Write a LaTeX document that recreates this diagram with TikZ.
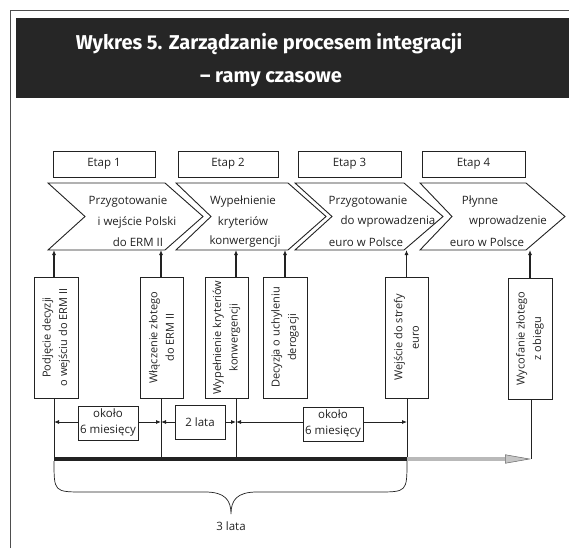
\documentclass[tikz,border=0pt]{standalone}
\usepackage{fontspec}
\setmainfont{Open Sans}
\newfontfamily\titlefont{Fira Sans}
\usetikzlibrary{arrows.meta,calc}
\definecolor{bar}{HTML}{262626}
\definecolor{ink}{HTML}{222222}
\begin{document}
\begin{tikzpicture}[x=1pt,y=-1pt,
  every node/.style={font=\fontsize{11.5}{14}\selectfont, text=ink},
  etapbox/.style={draw=ink, line width=0.8pt, minimum width=100, minimum height=26, inner sep=0pt},
  chev/.style={draw=ink, line width=0.9pt},
  cline/.style={inner sep=0pt, font=\fontsize{11.5}{14}\selectfont},
  vbox/.style={draw=ink, line width=0.8pt, rotate=90, minimum width=121, minimum height=44, inner sep=0pt, align=center, font=\fontsize{11}{16.5}\selectfont},
  uparr/.style={ink, line width=1.6pt, -{Latex[length=5pt,width=4pt]}},
  tick/.style={ink, line width=0.6pt},
  durarr/.style={ink, line width=0.8pt, {Latex[length=5pt,width=4pt]}-{Latex[length=5pt,width=4pt]}},
  durbox/.style={draw=ink, line width=0.8pt, fill=white, align=center, inner sep=1pt, font=\fontsize{11.5}{16}\selectfont},
]
\useasboundingbox (0,0) rectangle (569,548);
% frame
\draw[ink!80, line width=0.7pt] (10,548) -- (10,10) -- (569,10);
% title bar
\fill[bar] (16,18) rectangle (569,98);
\node[text=white, font=\titlefont\bfseries\fontsize{20}{24}\selectfont] (t1l) at (269,44) {Wykres 5. Zarządzanie procesem integracji};
\node[text=white, font=\titlefont\bfseries\fontsize{20}{24}\selectfont] (t2l) at (271,79) {– ramy czasowe};

% Etap boxes
\node[etapbox, minimum width=102] (e1) at (104,164) {Etap 1};
\node[etapbox, minimum width=100] (e2) at (228,164) {Etap 2};
\node[etapbox, minimum width=103] (e3) at (349.5,164) {Etap 3};
\node[etapbox, minimum width=103] (e4) at (473.5,164) {Etap 4};

% chevrons
\draw[chev] (48,183) -- (165,183) -- (203,216.5) -- (165,250) -- (48,250) -- (85,216.5) -- cycle;
\draw[chev] (176,183) -- (288,183) -- (326,216.5) -- (288,250) -- (176,250) -- (211,216.5) -- cycle;
\draw[chev] (295,183) -- (404,183) -- (443,216.5) -- (404,250) -- (295,250) -- (332,216.5) -- cycle;
\draw[chev] (420,183) -- (526,183) -- (565,216.5) -- (526,250) -- (420,250) -- (452,216.5) -- cycle;
\node[cline] (c1a) at (128,202) {Przygotowanie};
\node[cline] (c1b) at (137,222) {i wejście Polski};
\node[cline] (c1c) at (138,242) {do ERM II};
\node[cline] (c2a) at (243,202) {Wypełnienie};
\node[cline] (c2b) at (243,222) {kryteriów};
\node[cline] (c2c) at (245,242) {konwergencji};
\node[cline] (c3a) at (368,202) {Przygotowanie};
\node[cline] (c3b) at (388,222) {do wprowadzenia};
\node[cline] (c3c) at (366,242) {euro w Polsce};
\node[cline] (c4a) at (480,202) {Płynne};
\node[cline] (c4b) at (508,222) {wprowadzenie};
\node[cline] (c4c) at (487,242) {euro w Polsce};
\coordinate (cb) at (0,250);

% vertical boxes
\node[vbox] (b1) at (56,337.5) {Podjęcie decyzji\\o wejściu do ERM II};
\node[vbox, minimum height=43] (b2) at (161.5,337.5) {Włączenie złotego\\do ERM II};
\node[vbox, minimum height=43] (b3) at (226.5,337.5) {Wypełnienie kryteriów\\konwergencji};
\node[vbox] (b4) at (285,337.5) {Decyzja o uchyleniu\\derogacji};
\node[vbox, minimum height=43] (b5) at (406.5,337.5) {Wejście do strefy\\euro};
\node[vbox] (b6) at (530,338.5) {Wycofanie złotego\\z obiegu};

% timeline coordinates
\coordinate (t1) at (54,459);
\coordinate (t2) at (161,459);
\coordinate (t3) at (236,459);
\coordinate (t4) at (285,459);
\coordinate (t5) at (407,459);
\coordinate (t6) at (531,459);

% arrows up to chevrons
\draw[uparr] (b1.east -| t1) -- (t1 |- cb);
\draw[uparr] (b2.east -| t2) -- (t2 |- cb);
\draw[uparr] (b3.east -| t3) -- (t3 |- cb);
\draw[uparr] (b4.east -| t4) -- (t4 |- cb);
\draw[uparr] (b5.east) -- (b5.east |- cb);
\draw[uparr] (b6.east) -- (b6.east |- cb);

% ticks down to timeline
\draw[tick] (b1.west -| t1) -- (t1);
\draw[tick] (b2.west -| t2) -- (t2);
\draw[tick] (b3.west -| t3) -- (t3);
\draw[tick] (b5.west -| t5) -- (t5);
\draw[tick] (b6.west -| t6) -- (t6);

% durations
\coordinate (dy) at (0,422);
\draw[durarr] (t1 |- dy) -- (t2 |- dy);
\draw[durarr] (t2 |- dy) -- (t3 |- dy);
\draw[durarr] (t3 |- dy) -- (t5 |- dy);
\node[durbox, minimum width=60, minimum height=34] (d1) at (108,423) {około\\6 miesięcy};
\node[durbox, minimum width=50, minimum height=34] (d2) at (200,422) {2 lata};
\node[durbox, minimum width=60, minimum height=34] (d3) at (333,424) {około\\6 miesięcy};

% main timeline
\draw[gray!55, line width=3.2pt, -{Triangle[length=26pt,width=9pt,fill=gray!45,color=gray!80!black,line width=0.5pt]}] (t5) -- (t6);
\draw[ink, line width=4pt] (t1) -- (t5);

% brace
\draw[ink, line width=0.7pt] (t1) ++(0,2) .. controls (54,492) and (54,492) .. (84,492) -- (205,492) .. controls (225,492) and (231,500) .. (231,514) .. controls (231,500) and (237,492) .. (257,492) -- (377,492) .. controls (407,492) and (407,492) .. (407,461);
\node (lat) at (231,526) {3 lata};
\end{tikzpicture}
\end{document}
